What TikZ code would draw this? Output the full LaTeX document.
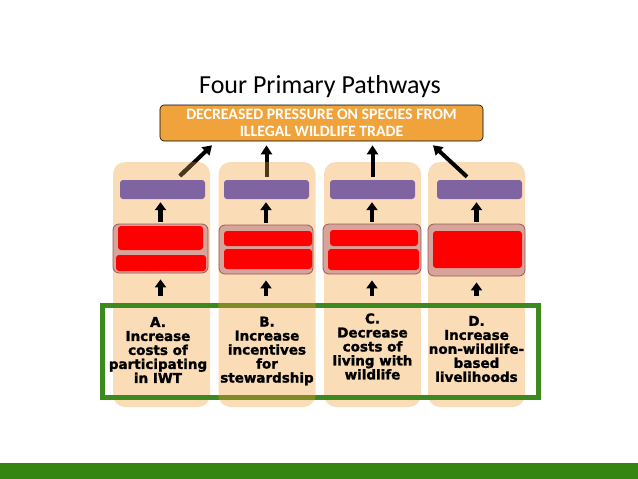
\documentclass[tikz,border=0pt]{standalone}
\usepackage{fontspec}
\setmainfont{Carlito}
\newfontfamily\heavyfont{DejaVu Sans}[BoldFeatures={FakeBold=1.6}]
\usetikzlibrary{positioning,arrows.meta}
\tikzset{>=latex}

\definecolor{tanbg}{HTML}{FADDB6}
\definecolor{goalor}{HTML}{F0A33A}
\definecolor{purp}{HTML}{8064A2}
\definecolor{grpfill}{HTML}{D6A49A}
\definecolor{grpline}{HTML}{9B5B52}
\definecolor{frameg}{HTML}{3C8A1E}
\definecolor{bandg}{HTML}{358512}
\definecolor{tailbr}{HTML}{4F3519}
\definecolor{oliveg}{HTML}{7D8C25}

\tikzset{
  column/.style={fill=tanbg, rounded corners=12pt, minimum width=97pt, minimum height=245pt, inner sep=0pt},
  purpbox/.style={fill=purp, rounded corners=3pt, minimum width=85pt, minimum height=19pt, inner sep=0pt},
  grpbox/.style={fill=grpfill, draw=grpline, line width=0.8pt, rounded corners=6pt, inner sep=0pt},
  redbar/.style={fill=red, rounded corners=3pt, inner sep=0pt},
  pathtxt/.style={font=\heavyfont\bfseries\fontsize{13.5}{14}\selectfont, align=center, inner sep=0pt},
  uparr/.style={line width=4.5pt, -{Triangle[length=8pt,width=11pt]}},
  toparr/.style={line width=4pt, -{Triangle[length=9pt,width=11pt]}}
}

\begin{document}
\begin{tikzpicture}[x=1pt,y=-1pt]
      \useasboundingbox (0,0) rectangle (638,479);

      \node (title) at (320,87) {\fontsize{26}{30}\selectfont Four Primary Pathways};
      \node (goal)  at (321.5,123) [fill=goalor, draw=black, line width=0.6pt, rounded corners=4pt,
                                    minimum width=323pt, minimum height=36pt, inner sep=0pt,
                                    text=white, align=center, font=\bfseries\fontsize{15.8}{17.5}\selectfont]
                    {DECREASED PRESSURE ON SPECIES FROM\\ILLEGAL WILDLIFE TRADE};

      \node (colA) at (161.5,284.5) [column] {};
      \node (colB) at (267,284.5)   [column] {};
      \node (colC) at (372.5,284.5) [column] {};
      \node (colD) at (476.5,284.5) [column] {};

      \node (purpA) at (162.5,189.5) [purpbox] {};
      \node (purpB) at (266.5,189.5) [purpbox] {};
      \node (purpC) at (372.5,189.5) [purpbox] {};
      \node (purpD) at (479.5,189.5) [purpbox] {};

      \node (grpA) at (160.5,248.5) [grpbox, minimum width=95pt, minimum height=49pt] {};
      \node (grpB) at (266,249.5)   [grpbox, minimum width=94pt, minimum height=49pt] {};
      \node (grpC) at (372,249)     [grpbox, minimum width=98pt, minimum height=50pt] {};
      \node (grpD) at (476.5,250)   [grpbox, minimum width=97pt, minimum height=52pt] {};

      \node (redA1) at (160.5,238)   [redbar, minimum width=85pt, minimum height=24pt] {};
      \node (redA2) at (161,263)     [redbar, minimum width=90pt, minimum height=16pt] {};
      \node (redB1) at (268,238.5)   [redbar, minimum width=88pt, minimum height=15pt] {};
      \node (redB2) at (268,259)     [redbar, minimum width=88pt, minimum height=20pt] {};
      \node (redC1) at (374,238)     [redbar, minimum width=88pt, minimum height=16pt] {};
      \node (redC2) at (373.5,259.5) [redbar, minimum width=91pt, minimum height=21pt] {};
      \node (redD1) at (477.5,249.5) [redbar, minimum width=89pt, minimum height=37pt] {};

      \node (frame) at (320,351) [draw=frameg, line width=5pt, minimum width=436pt, minimum height=92pt] {};
      \begin{scope}
        \clip [rounded corners=12pt] (colB.north west) rectangle (colB.south east);
        \node at (frame.center) [draw=oliveg, line width=5pt, minimum width=436pt, minimum height=92pt] {};
      \end{scope}

      \node (txtA) at (158,350)   [pathtxt] {A.\\Increase\\costs of\\participating\\in IWT};
      \node (txtB) at (267,351)   [pathtxt] {B.\\Increase\\incentives\\for\\stewardship};
      \node (txtC) at (372.5,346.5) [pathtxt] {C.\\Decrease\\costs of\\living with\\wildlife};
      \node (txtD) at (476.5,349) [pathtxt] {D.\\Increase\\non-wildlife-\\based\\livelihoods};

      \draw [uparr, shorten <=2pt, shorten >=3pt] (grpA.north) -- (grpA.north |- purpA.south);
      \draw [uparr, shorten <=2pt, shorten >=3pt] (grpB.north) -- (grpB.north |- purpB.south);
      \draw [uparr, shorten <=2pt, shorten >=3pt] (grpC.north) -- (grpC.north |- purpC.south);
      \draw [uparr, shorten <=2pt, shorten >=3pt] (grpD.north) -- (grpD.north |- purpD.south);

      \draw [uparr, shorten <=7pt, shorten >=6pt] (grpA.south |- frame.north) -- (grpA.south);
      \draw [uparr, shorten <=7pt, shorten >=6pt] (grpB.south |- frame.north) -- (grpB.south);
      \draw [uparr, shorten <=7pt, shorten >=6pt] (grpC.south |- frame.north) -- (grpC.south);
      \draw [uparr, shorten <=7pt, shorten >=6pt] (grpD.south |- frame.north) -- (grpD.south);

      \draw [toparr] ([xshift=17.5pt,yshift=4pt]purpA.north) -- ([xshift=-109.5pt,yshift=-4pt]goal.south);
      \draw [toparr] ([yshift=3pt]purpB.north) -- ([yshift=-4pt]purpB.north |- goal.south);
      \draw [toparr] ([yshift=3pt]purpC.north) -- ([yshift=-4pt]purpC.north |- goal.south);
      \draw [toparr] ([xshift=-12.5pt,yshift=3pt]purpD.north) -- ([xshift=111.5pt,yshift=-4pt]goal.south);
      \begin{scope}
        \clip [rounded corners=12pt] (colA.north west) rectangle (colB.south east);
        \draw [line width=4pt, tailbr] ([xshift=17.5pt,yshift=4pt]purpA.north) -- ([xshift=-109.5pt,yshift=-4pt]goal.south);
        \draw [line width=4pt, tailbr] ([yshift=3pt]purpB.north) -- ([yshift=-4pt]purpB.north |- goal.south);
      \end{scope}

      \fill [bandg] (0,463) rectangle (638,479);
    \end{tikzpicture}
\end{document}
